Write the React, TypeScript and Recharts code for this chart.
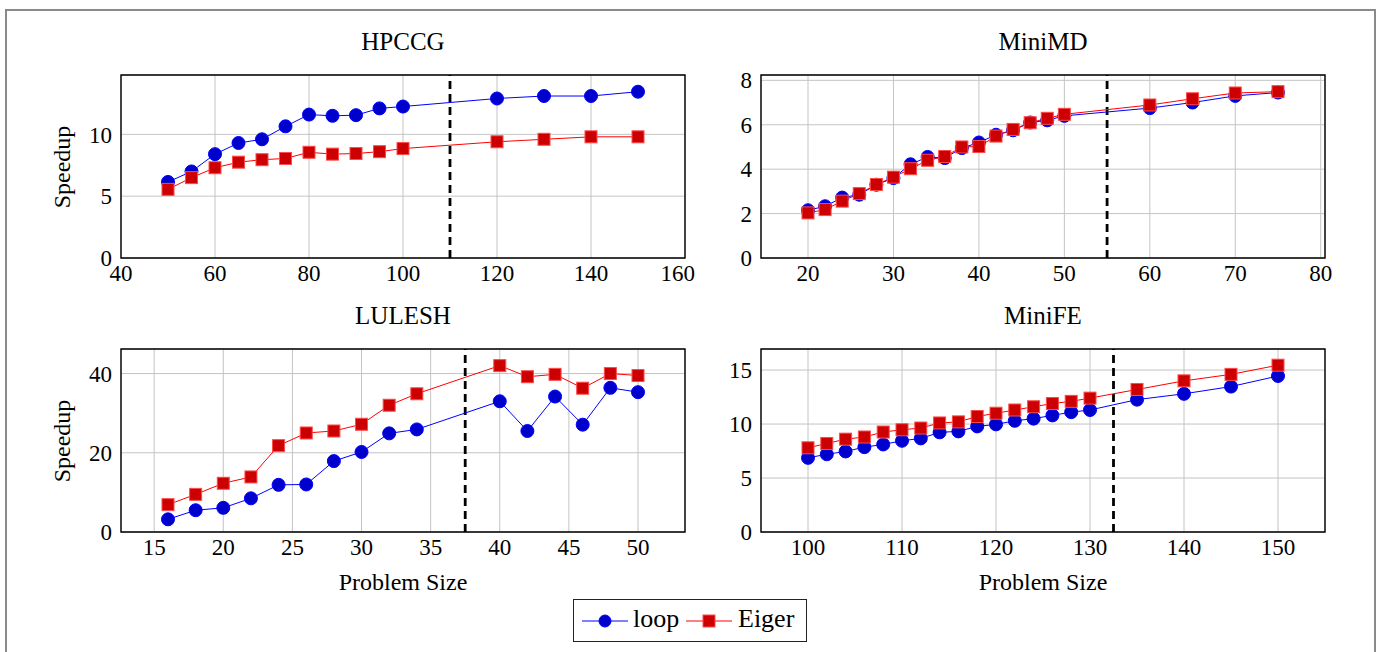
import React from 'react';
import { LineChart, Line, XAxis, YAxis, CartesianGrid, ReferenceLine, ReferenceArea } from 'recharts';

const FONT = 'Liberation Serif, Times New Roman, DejaVu Serif, serif';

// HPCCG
const hpccgSizes = [50, 55, 60, 65, 70, 75, 80, 85, 90, 95, 100, 120, 130, 140, 150];
const hpccgLoop = [6.15, 7.0, 8.4, 9.3, 9.6, 10.65, 11.6, 11.5, 11.55, 12.1, 12.25, 12.9, 13.1, 13.1, 13.45];
const hpccgEiger = [5.55, 6.5, 7.3, 7.75, 7.95, 8.05, 8.55, 8.4, 8.45, 8.6, 8.85, 9.4, 9.6, 9.8, 9.8];

// MiniMD
const minimdSizes = [20, 22, 24, 26, 28, 30, 32, 34, 36, 38, 40, 42, 44, 46, 48, 50, 60, 65, 70, 75];
const minimdLoop = [2.15, 2.33, 2.72, 2.85, 3.3, 3.6, 4.22, 4.55, 4.5, 4.95, 5.2, 5.55, 5.75, 6.1, 6.2, 6.4, 6.75, 7.0, 7.3, 7.45];
const minimdEiger = [2.03, 2.18, 2.56, 2.9, 3.31, 3.64, 4.02, 4.4, 4.57, 5.0, 5.02, 5.49, 5.79, 6.09, 6.29, 6.47, 6.89, 7.17, 7.43, 7.49];

// LULESH
const luleshSizes = [16, 18, 20, 22, 24, 26, 28, 30, 32, 34, 40, 42, 44, 46, 48, 50];
const luleshLoop = [3.2, 5.5, 6.1, 8.5, 11.9, 12.0, 17.9, 20.2, 24.9, 25.9, 33.0, 25.5, 34.2, 27.1, 36.4, 35.3];
const luleshEiger = [6.9, 9.5, 12.3, 13.9, 21.8, 25.0, 25.5, 27.2, 32.0, 34.9, 42.0, 39.2, 39.8, 36.3, 40.0, 39.5];

// MiniFE
const minifeSizes = [100, 102, 104, 106, 108, 110, 112, 114, 116, 118, 120, 122, 124, 126, 128, 130, 135, 140, 145, 150];
const minifeLoop = [6.87, 7.2, 7.46, 7.86, 8.11, 8.45, 8.67, 9.23, 9.32, 9.78, 9.97, 10.3, 10.5, 10.8, 11.1, 11.3, 12.26, 12.8, 13.47, 14.45];
const minifeEiger = [7.8, 8.2, 8.6, 8.8, 9.26, 9.47, 9.63, 10.1, 10.2, 10.7, 11.0, 11.3, 11.6, 11.9, 12.1, 12.4, 13.2, 14.0, 14.6, 15.45];

const BLUE = '#0000ff';
const BLUE_FILL = '#0000cc';
const RED = '#ff0000';
const RED_FILL = '#cc0000';

const PLOT_W = 564;
const PLOT_H = 183;

type Panel = {
  title: string;
  sizes: number[];
  loop: number[];
  eiger: number[];
  xDomain: [number, number];
  yDomain: [number, number];
  xTicks: number[];
  yTicks: number[];
  split: number;
  left: number;
  top: number;
  yLabel?: boolean;
  xLabel?: boolean;
};

const panels: Panel[] = [
  {
    title: 'HPCCG', sizes: hpccgSizes, loop: hpccgLoop, eiger: hpccgEiger,
    xDomain: [40, 160], yDomain: [0, 14.8], xTicks: [40, 60, 80, 100, 120, 140, 160], yTicks: [0, 5, 10],
    split: 110, left: 121, top: 75, yLabel: true,
  },
  {
    title: 'MiniMD', sizes: minimdSizes, loop: minimdLoop, eiger: minimdEiger,
    xDomain: [14.5, 80.5], yDomain: [0, 8.24], xTicks: [20, 30, 40, 50, 60, 70, 80], yTicks: [0, 2, 4, 6, 8],
    split: 55, left: 761, top: 75,
  },
  {
    title: 'LULESH', sizes: luleshSizes, loop: luleshLoop, eiger: luleshEiger,
    xDomain: [12.6, 53.4], yDomain: [0, 46.2], xTicks: [15, 20, 25, 30, 35, 40, 45, 50], yTicks: [0, 20, 40],
    split: 37.5, left: 121, top: 349, yLabel: true, xLabel: true,
  },
  {
    title: 'MiniFE', sizes: minifeSizes, loop: minifeLoop, eiger: minifeEiger,
    xDomain: [95, 155], yDomain: [0, 16.95], xTicks: [100, 110, 120, 130, 140, 150], yTicks: [0, 5, 10, 15],
    split: 132.5, left: 761, top: 349, xLabel: true,
  },
];

const renderSquare = (props: any) => {
  const { cx, cy, index } = props;
  if (cx == null || cy == null) return <g key={`sq-${index}`} />;
  return (
    <rect key={`sq-${index}`} x={cx - 6} y={cy - 6} width={12} height={12} fill={RED_FILL} stroke="#ff4a4a" strokeWidth={1} />
  );
};

const tickStyle = { fontSize: 23, fill: '#000', fontFamily: FONT };
const textStyle: React.CSSProperties = { fontFamily: FONT, fontSize: 24, lineHeight: '28px', textAlign: 'center', position: 'absolute' };

function PanelChart({ p }: { p: Panel }) {
  const rows = p.sizes.map((s, i) => ({ size: s, loop: p.loop[i], eiger: p.eiger[i] }));
  return (
    <>
      <div style={{ ...textStyle, fontSize: 25, left: p.left, top: p.top - 47, width: PLOT_W }}>{p.title}</div>
      {p.yLabel && (
        <div style={{ ...textStyle, left: 62 - 60, top: p.top + PLOT_H / 2 - 14, width: 120, transform: 'rotate(-90deg)' }}>
          Speedup
        </div>
      )}
      {p.xLabel && (
        <div style={{ ...textStyle, left: p.left, top: p.top + PLOT_H + 36, width: PLOT_W }}>Problem Size</div>
      )}
      <div style={{ position: 'absolute', left: p.left - 60, top: p.top - 10 }}>
        <LineChart width={PLOT_W + 70} height={PLOT_H + 50} data={rows} margin={{ top: 10, right: 10, bottom: 0, left: 0 }}>
          <CartesianGrid stroke="#c4c4c4" strokeWidth={1} />
          <XAxis
            dataKey="size"
            type="number"
            domain={p.xDomain}
            ticks={p.xTicks}
            allowDataOverflow
            height={40}
            tickLine={false}
            axisLine={false}
            tickSize={0}
            tickMargin={7}
            tick={tickStyle}
          />
          <YAxis
            type="number"
            domain={p.yDomain}
            ticks={p.yTicks}
            allowDataOverflow
            width={60}
            tickLine={false}
            axisLine={false}
            tickSize={0}
            tickMargin={9}
            tick={tickStyle}
          />
          <ReferenceArea
            x1={p.xDomain[0]}
            x2={p.xDomain[1]}
            y1={p.yDomain[0]}
            y2={p.yDomain[1]}
            fill="none"
            stroke="#000"
            strokeWidth={1.4}
            ifOverflow="visible"
          />
          <ReferenceLine x={p.split} stroke="#000" strokeWidth={2.8} strokeDasharray="8 5" />
          <Line
            dataKey="loop"
            stroke={BLUE}
            strokeWidth={1}
            dot={{ r: 6.5, fill: BLUE_FILL, stroke: BLUE, strokeWidth: 1 }}
            isAnimationActive={false}
          />
          <Line
            dataKey="eiger"
            stroke={RED}
            strokeWidth={1}
            dot={renderSquare}
            isAnimationActive={false}
          />
        </LineChart>
      </div>
    </>
  );
}

function LegendBox() {
  return (
    <div style={{ position: 'absolute', left: 573, top: 599, width: 234, height: 43, boxSizing: 'border-box', border: '1px solid #222', fontFamily: FONT, fontSize: 26 }}>
      <svg style={{ position: 'absolute', left: 8, top: 14 }} width={46} height={14}>
        <line x1={0} y1={7} x2={46} y2={7} stroke={BLUE} strokeWidth={1} />
        <circle cx={23} cy={7} r={6} fill={BLUE_FILL} stroke={BLUE} />
      </svg>
      <span style={{ position: 'absolute', left: 59, top: 4, lineHeight: '30px' }}>loop</span>
      <svg style={{ position: 'absolute', left: 112, top: 14 }} width={46} height={14}>
        <line x1={0} y1={7} x2={46} y2={7} stroke={RED} strokeWidth={1} />
        <rect x={17} y={1} width={12} height={12} fill={RED_FILL} stroke="#ff4a4a" />
      </svg>
      <span style={{ position: 'absolute', left: 164, top: 4, lineHeight: '30px' }}>Eiger</span>
    </div>
  );
}

export default function App() {
  return (
    <div style={{ position: 'absolute', left: 0, top: 0, width: 1381, height: 652, overflow: 'hidden', background: '#fff' }}>
      <div style={{ position: 'absolute', left: 5, top: 9, width: 1371, height: 700, boxSizing: 'border-box', border: '2px solid #8a8a8a' }} />
      {panels.map((p) => (
        <PanelChart key={p.title} p={p} />
      ))}
      <LegendBox />
    </div>
  );
}
